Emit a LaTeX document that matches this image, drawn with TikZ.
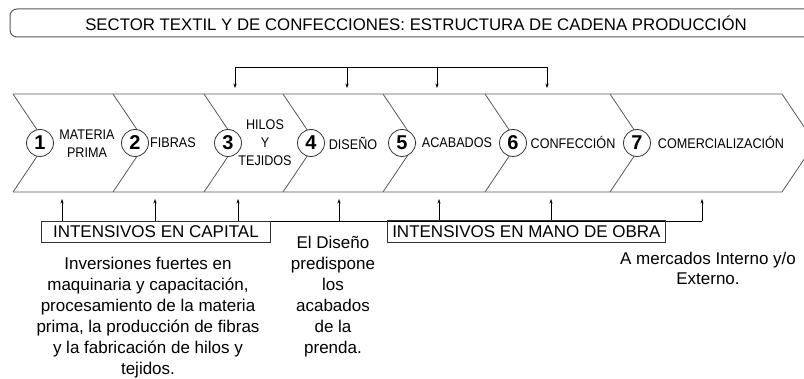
\documentclass[tikz,border=0pt]{standalone}
\usepackage{fontspec}
\setmainfont{Liberation Sans}
\newfontfamily\narrowfont[FakeStretch=0.9]{Liberation Sans}
\usetikzlibrary{arrows.meta}
\begin{document}
\begin{tikzpicture}[x=1pt,y=-1pt,
  chev/.style={draw=black!65, line width=0.8pt},
  circ/.style={circle, draw=black!80, line width=0.8pt, fill=white, minimum size=27pt, inner sep=0pt, font=\fontsize{20}{20}\selectfont\bfseries},
  lab/.style={align=center, inner sep=0pt, font=\narrowfont\fontsize{14}{18}\selectfont},
  arr/.style={draw=black, line width=0.6pt, -{Stealth[length=4.5pt,width=3.2pt]}},
  lin/.style={draw=black, line width=0.6pt},
  bx/.style={draw=black!80, line width=0.8pt, inner sep=0pt, font=\fontsize{17}{17}\selectfont},
  para/.style={align=center, inner sep=0pt, font=\fontsize{17}{21}\selectfont}]
\useasboundingbox (0,0) rectangle (804,379);
\clip (0,0) rectangle (804,379);
% title
\draw[draw=black!65, line width=1pt, rounded corners=7pt] (10,9) rectangle (830,37);
\node[inner sep=0pt, font=\fontsize{16.8}{17}\selectfont] (title) at (416,23) {SECTOR TEXTIL Y DE CONFECCIONES: ESTRUCTURA DE CADENA PRODUCCIÓN};
% chevron outline
\draw[chev] (13,94) -- (782,94) -- (815,143) -- (782,192) -- (13,192);
\foreach \x in {13,113,204,283,383,485,610}{
  \draw[chev] (\x,94) -- (\x+33,143) -- (\x,192);
}
% circles
\node[circ] (c1) at (40,143) {1};
\node[circ] (c2) at (135,143) {2};
\node[circ] (c3) at (228,143) {3};
\node[circ] (c4) at (311,143) {4};
\node[circ] (c5) at (402,143) {5};
\node[circ] (c6) at (513,143) {6};
\node[circ] (c7) at (637,143) {7};
% labels
\node[lab] (l1) at (87,143.5) {MATERIA\\PRIMA};
\node[lab] (l2) at (173,143) {FIBRAS};
\node[lab] (l3) at (265,143) {HILOS\\Y\\TEJIDOS};
\node[lab] (l4) at (353,143) {DISEÑO};
\node[lab] (l5) at (457,143) {ACABADOS};
\node[lab] (l6) at (573,143) {CONFECCIÓN};
\node[lab] (l7) at (721,143) {COMERCIALIZACIÓN};
% top feedback
\coordinate (t1) at (235,67);
\coordinate (t2) at (347,67);
\coordinate (t3) at (437,67);
\coordinate (t4) at (547,67);
\coordinate (h1) at (235,88);
\coordinate (h2) at (347,88);
\coordinate (h3) at (437,88);
\coordinate (h4) at (547,88);
\draw[lin] (t1) -- (t4);
\foreach \i in {1,...,4}{ \draw[arr] (t\i) -- (h\i); }
% bottom line and up arrows
\foreach \n/\x in {1/62,2/155,3/238,4/339,5/439,6/551,7/702}{
  \coordinate (b\n) at (\x,221);
  \coordinate (u\n) at (\x,199);
}
\draw[lin] (b1) -- (b7);
\foreach \i in {1,...,7}{ \draw[arr] (b\i) -- (u\i); }
% boxes
\node[bx, minimum width=229pt, minimum height=21pt, anchor=north west] (k1) at (41,221) {INTENSIVOS EN CAPITAL};
\node[bx, minimum width=278pt, minimum height=22pt, anchor=north west] (k2) at (387,220) {INTENSIVOS EN MANO DE OBRA};
% paragraphs
\node[para] (p1) at (148,317.5) {Inversiones fuertes en\\maquinaria y capacitación,\\procesamiento de la materia\\prima, la producción de fibras\\y la fabricación de hilos y\\tejidos.};
\node[para] (p2) at (333,297) {El Diseño\\predispone\\los\\acabados\\de la\\prenda.};
\node[para, font=\fontsize{17}{20}\selectfont] (p3) at (708,268) {A mercados Interno y/o\\Externo.};
\end{tikzpicture}
\end{document}
